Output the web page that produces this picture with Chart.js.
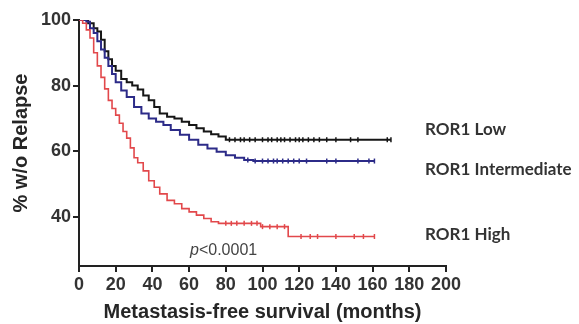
<!DOCTYPE html>
<html>
<head>
<meta charset="utf-8">
<script src="https://cdn.jsdelivr.net/npm/chart.js@4"></script>
<style>
  html, body { margin: 0; padding: 0; background: #fff; }
  #wrap { width: 579px; height: 324px; }
</style>
</head>
<body>
<div id="wrap"><canvas id="Diagramm" width="579" height="324"></canvas></div>
<script>
// Kaplan-Meier steps: months and % without relapse
var lowMonths = [0, 3, 5, 8, 10, 12, 14, 16, 18, 20, 23, 26, 29, 32, 35, 38, 41, 44, 48, 52, 56, 60, 64, 68, 72, 76, 80, 170];
var lowValues = [100, 100, 99, 97.5, 96.5, 94, 90.5, 88, 86, 84.5, 82, 81, 80, 78.8, 77, 75.5, 73.5, 71.5, 70.5, 70, 69, 68, 67, 66, 65.2, 64.5, 63.5, 63.5];

var midMonths = [0, 4, 6, 8, 10, 12, 14, 16, 18, 20, 23, 26, 30, 34, 38, 42, 46, 50, 55, 60, 65, 70, 75, 80, 85, 90, 95, 161];
var midValues = [100, 99.5, 97.5, 96, 93.5, 91, 88.5, 86, 83.5, 81, 78.5, 76.5, 73.5, 71.5, 70, 69, 68, 66.5, 65, 63.5, 62, 60.8, 59.8, 58.8, 58, 57.3, 57, 57];

var highMonths = [0, 2, 4, 6, 8, 10, 12, 14, 16, 18, 20, 22, 24, 26, 28, 30, 32, 35, 38, 41, 44, 48, 52, 56, 60, 64, 68, 72, 76, 99, 114, 161];
var highValues = [100, 99, 97, 94.5, 90, 86, 82.5, 79, 75.5, 73, 71, 68.5, 66, 64, 61, 58, 56.5, 54, 51, 49, 47, 45, 44, 42.5, 41.5, 40.5, 39.5, 38.5, 38, 37, 34, 34];

// censored patients (tick marks)
var lowCensored = [82, 85, 88, 90, 93, 96, 100, 103, 105, 108, 110, 112, 115, 118, 120, 122, 125, 128, 131, 135, 140, 148, 152, 168, 170];
var midCensored = [92, 96, 100, 103, 106, 108, 111, 114, 117, 120, 124, 135, 140, 152, 158, 161];
var highCensored = [80, 83, 86, 90, 94, 97, 100, 104, 108, 112, 121, 126, 130, 140, 150, 155, 161];

var yTickValues = [40, 60, 80, 100];
var gruppenNamen = ['ROR1 Low', 'ROR1 Intermediate', 'ROR1 High'];
var pWert = 'p<0.0001';

function punkte(monate, werte) {
  var p = [];
  for (var i = 0; i < monate.length; i++) p.push({x: monate[i], y: werte[i]});
  return p;
}
// value of the step curve at month m
function wertBei(monate, werte, m) {
  var w = werte[0];
  for (var i = 0; i < monate.length; i++) { if (monate[i] <= m) w = werte[i]; }
  return w;
}
function zensiert(zeiten, monate, werte) {
  return zeiten.map(function (t) { return {x: t, y: wertBei(monate, werte, t)}; });
}

var schwarz = '#161616', blau = '#2c2b88', rot = '#e2484b';

function linie(label, data, farbe, breite) {
  return { type: 'line', label: label, data: data, stepped: 'before', borderColor: farbe,
           borderWidth: breite, pointRadius: 0, fill: false, tension: 0 };
}
function ticks(data, farbe) {
  return { type: 'scatter', data: data, pointStyle: 'line', rotation: 90, pointRadius: 2.5,
           borderColor: farbe, borderWidth: 1.5, backgroundColor: farbe, showLine: false };
}

// text labels next to the curves and p value
var beschriftung = {
  id: 'beschriftung',
  afterDraw: function (chart) {
    var ctx = chart.ctx, xs = chart.scales.x, ys = chart.scales.y;
    ctx.save();
    ctx.fillStyle = '#333';
    ctx.font = 'bold 17px Lato';
    ctx.textBaseline = 'middle';
    ctx.textAlign = 'left';
    var lx = xs.getPixelForValue(188.6);
    ctx.fillText(gruppenNamen[0], lx, ys.getPixelForValue(66.5));
    ctx.fillText(gruppenNamen[1], lx, ys.getPixelForValue(54.4));
    ctx.fillText(gruppenNamen[2], lx, ys.getPixelForValue(34.5));
    // p value with italic p
    var px = xs.getPixelForValue(60.5), py = ys.getPixelForValue(29.8);
    ctx.fillStyle = '#444';
    ctx.font = 'italic 16px "Liberation Sans"';
    ctx.fillText(pWert.charAt(0), px, py);
    var w = ctx.measureText(pWert.charAt(0)).width;
    ctx.font = '16px "Liberation Sans"';
    ctx.fillText(pWert.slice(1), px + w, py);
    ctx.restore();
  }
};

const CHART = document.getElementById('Diagramm');

let kmDiagramm = new Chart(CHART, {
  data: {
    datasets: [
      linie(gruppenNamen[2], punkte(highMonths, highValues), rot, 1.6),
      ticks(zensiert(highCensored, highMonths, highValues), rot),
      linie(gruppenNamen[1], punkte(midMonths, midValues), blau, 2),
      ticks(zensiert(midCensored, midMonths, midValues), blau),
      linie(gruppenNamen[0], punkte(lowMonths, lowValues), schwarz, 2),
      ticks(zensiert(lowCensored, lowMonths, lowValues), schwarz)
    ]
  },
  options: {
    responsive: false,
    animation: false,
    layout: { padding: { top: 20, right: 133, bottom: 0, left: 9 } },
    plugins: { legend: { display: false }, tooltip: { enabled: false } },
    scales: {
      x: {
        type: 'linear', min: 0, max: 200,
        ticks: { stepSize: 20, color: '#333', font: { family: 'Liberation Sans', size: 18, weight: 'bold' }, padding: 2, maxRotation: 0 },
        grid: { display: true, drawOnChartArea: false, drawTicks: true, tickLength: 6, color: '#222', lineWidth: 2 },
        border: { display: true, color: '#222', width: 2 },
        title: { display: true, text: 'Metastasis-free survival (months)', color: '#262626',
                 font: { family: 'Liberation Sans', size: 20, weight: 'bold' }, padding: { top: 3, bottom: 0 } },
        afterFit: function (s) { s.height = 58; }
      },
      y: {
        type: 'linear', min: 25, max: 100,
        afterBuildTicks: function (s) { s.ticks = yTickValues.map(function (v) { return {value: v}; }); },
        ticks: { color: '#333', font: { family: 'Liberation Sans', size: 18, weight: 'bold' }, padding: 2 },
        grid: { display: true, drawOnChartArea: false, drawTicks: true, tickLength: 6, color: '#222', lineWidth: 2 },
        border: { display: true, color: '#222', width: 2 },
        title: { display: true, text: '% w/o Relapse', color: '#262626',
                 font: { family: 'Liberation Sans', size: 20, weight: 'bold' }, padding: { top: 0, bottom: 4 } },
        afterFit: function (s) { s.width = 70; }
      }
    }
  },
  plugins: [beschriftung]
});
</script>
</body>
</html>
